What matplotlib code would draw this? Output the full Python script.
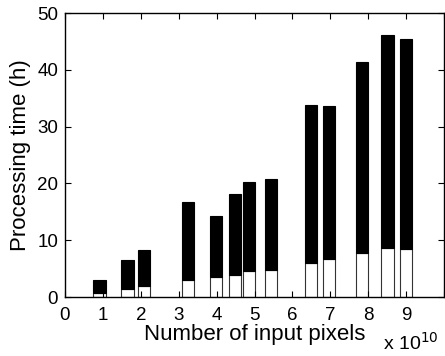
import matplotlib
matplotlib.use("Agg")
import matplotlib.pyplot as plt

plt.rcParams['font.family'] = ['Liberation Sans', 'DejaVu Sans']

# input pixels (x 1e10)
pixels = [0.91, 1.65, 2.09, 3.24, 3.99, 4.48, 4.86, 5.43, 6.50, 6.97, 7.84, 8.51, 9.00]
# processing time components (h)
part_low = [0.76, 1.46, 1.94, 3.0, 3.6, 3.8, 4.6, 4.8, 6.04, 6.74, 7.8, 8.7, 8.5]
total = [3.0, 6.6, 8.3, 16.7, 14.2, 18.1, 20.2, 20.8, 33.8, 33.6, 41.4, 46.2, 45.4]
part_high = [t - l for t, l in zip(total, part_low)]

fig = plt.figure(figsize=(4.45, 3.56), dpi=100)
ax = fig.add_axes([65/445, 59/356, 379/445, 284/356])

w = 0.32
ax.bar(pixels, part_low, width=w, color='white', edgecolor='#333333', linewidth=0.8)
ax.bar(pixels, part_high, bottom=part_low, width=w, color='black', edgecolor='black', linewidth=0.8)

ax.set_xlim(0, 10)
ax.set_ylim(0, 50)
ax.set_xticks(range(0, 11))
ax.set_xticklabels([str(i) for i in range(0, 10)] + [''])
ax.set_yticks(range(0, 51, 10))
ax.tick_params(direction='in', top=True, right=True, labelsize=13.5, length=4)
ax.tick_params(axis='x', pad=7)
ax.tick_params(axis='y', pad=5)
for s in ax.spines.values():
    s.set_linewidth(1.0)
ax.set_xlabel('Number of input pixels', fontsize=16, labelpad=0)
ax.set_ylabel('Processing time (h)', fontsize=16, labelpad=4)
fig.text(383/445, 2/356, r'x 10$^{10}$', fontsize=14, ha='left', va='bottom')

fig.savefig('out.png', dpi=100)
